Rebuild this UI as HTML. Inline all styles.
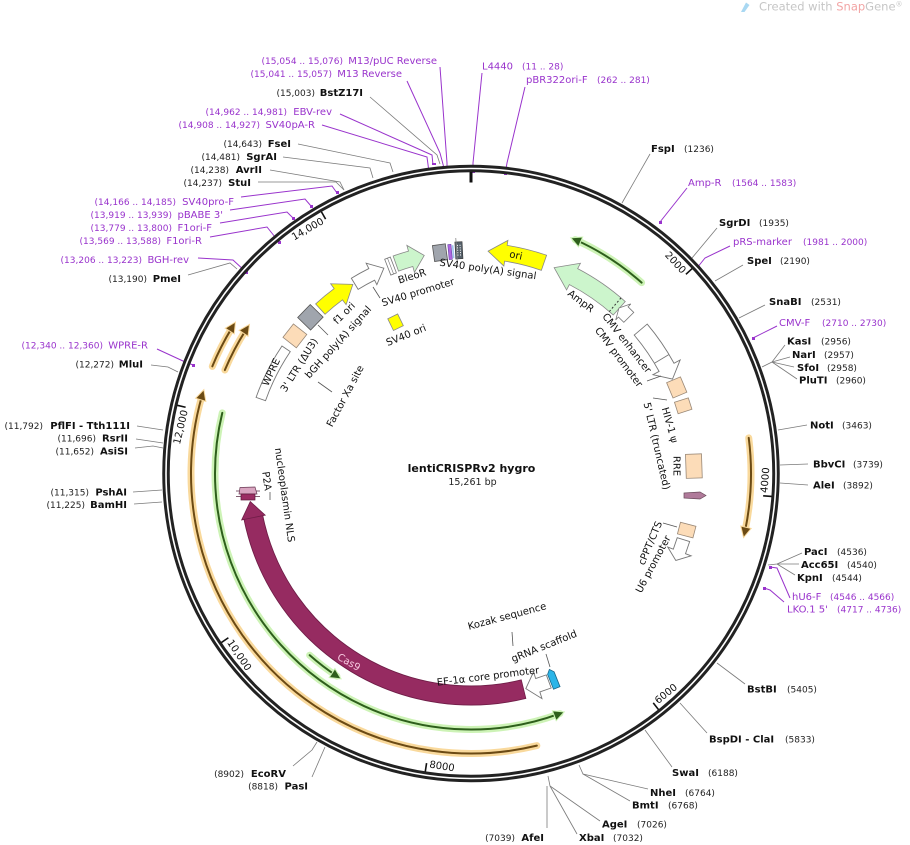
<!DOCTYPE html>
<html>
<head>
<meta charset="utf-8">
<style>
html,body{margin:0;padding:0;background:#fff;}
body{width:910px;height:845px;overflow:hidden;}
svg{display:block;}
.en{font-weight:bold;font-size:10px;fill:#111;}
.num{font-size:9px;fill:#222;}
.pn{font-size:10px;fill:#9933cc;}
.pr{font-size:9px;fill:#9933cc;}
.lb{font-size:10px;fill:#111;}
.tk{font-size:10px;fill:#111;}
</style>
</head>
<body>
<svg width="910" height="845" viewBox="0 0 910 845" font-family="'DejaVu Sans','Liberation Sans',sans-serif">
<rect width="910" height="845" fill="#fff"/>

<!-- watermark -->
<path d="M741,12 L746,2.5 L749.5,5 L744.5,12 Z" fill="#a9d8f2"/>
<text x="759" y="10.5" font-size="11.5" fill="#c6c6c6">Created with <tspan fill="#f2a5a5">Snap</tspan>Gene<tspan font-size="7" dy="-4">®</tspan></text>

<!-- center title -->
<text x="471.5" y="472" font-weight="bold" font-size="11" text-anchor="middle" fill="#111">lentiCRISPRv2 hygro</text>
<text x="472.5" y="485" font-size="9.5" text-anchor="middle" fill="#222">15,261 bp</text>

<!-- enzyme leader lines -->
<g fill="none" stroke="#7a7a7a" stroke-width="0.8">
<polyline points="370,97 437,155 440,164"/>
<polyline points="298,144 390,163 393,172"/>
<polyline points="283,157 370,168 373,178"/>
<polyline points="270,170 340,182 344,190"/>
<polyline points="258,182 336,182 344,190"/>
<polyline points="188,275 230,263 237,269"/>
<polyline points="151,365 168,367 178,372"/>
<polyline points="137,426 163,430"/>
<polyline points="136,439 163,443"/>
<polyline points="135,448 153,446 163,448"/>
<polyline points="133,492 162,490"/>
<polyline points="134,504 162,502"/>
<polyline points="293,766 312,750 317,742"/>
<polyline points="312,777 325,747"/>
<polyline points="650,154 622,203"/>
<polyline points="717,228 692,258"/>
<polyline points="743,265 715,281"/>
<polyline points="765,305 739,318"/>
<polyline points="762,367 772,362 785,345"/>
<polyline points="772,362 790,357"/>
<polyline points="772,362 794,367"/>
<polyline points="772,362 797,379"/>
<polyline points="807,425 778,430"/>
<polyline points="808,464 780,465"/>
<polyline points="808,485 780,483"/>
<polyline points="768,565 777,564 802,553"/>
<polyline points="777,564 799,564"/>
<polyline points="777,564 795,575"/>
<polyline points="745,684 717,663"/>
<polyline points="707,733 680,703"/>
<polyline points="672,767 645,730"/>
<polyline points="648,789 583,774 579,765"/>
<polyline points="630,801 583,774"/>
<polyline points="600,821 550,786 548,776"/>
<polyline points="577,834 550,786"/>
<polyline points="547,828 547,786"/>
</g>

<!-- primer leader lines -->
<g fill="none" stroke="#9933cc" stroke-width="1">
<polyline points="440,67 447,163 447,172"/>
<polyline points="407,81 440,153 444,168"/>
<polyline points="340,114 432,155 433,165"/>
<polyline points="322,125 427,157 429,172"/>
<polyline points="241,197 332,186 337,193"/>
<polyline points="230,210 305,199 311,206"/>
<polyline points="220,223 287,212 293,218"/>
<polyline points="210,237 267,227 279,242"/>
<polyline points="198,258 233,260 246,272"/>
<polyline points="157,349 183,361 193,365"/>
<polyline points="482,73 473,163 473,172"/>
<polyline points="525,87 507,163 505,174"/>
<polyline points="687,188 660,222"/>
<polyline points="730,246 705,258 697,268"/>
<polyline points="777,326 753,338"/>
<polyline points="790,598 777,568 770,567"/>
<polyline points="784,602 770,590 764,588"/>
</g>
<g fill="#9933cc">
<rect x="445" y="171" width="4" height="2"/>
<rect x="442" y="166" width="4" height="2"/>
<rect x="432" y="163" width="4" height="2"/>
<rect x="427" y="171" width="4" height="2"/>
<rect x="336" y="191" width="3" height="3"/>
<rect x="310" y="205" width="3" height="3"/>
<rect x="292" y="217" width="3" height="3"/>
<rect x="278" y="241" width="3" height="3"/>
<rect x="245" y="271" width="3" height="3"/>
<rect x="192" y="364" width="3" height="3"/>
<rect x="472" y="171" width="3" height="2"/>
<rect x="504" y="173" width="3" height="2"/>
<rect x="659" y="221" width="3" height="3"/>
<rect x="696" y="267" width="3" height="3"/>
<rect x="752" y="337" width="3" height="3"/>
<rect x="769" y="566" width="3" height="3"/>
<rect x="763" y="587" width="3" height="3"/>
</g>

<!-- left labels -->
<text class="pr" x="343" y="64" text-anchor="end">(15,054 .. 15,076)</text><text class="pn" x="437" y="64" text-anchor="end">M13/pUC Reverse</text>
<text class="pr" x="332" y="77" text-anchor="end">(15,041 .. 15,057)</text><text class="pn" x="402" y="77" text-anchor="end">M13 Reverse</text>
<text class="num" x="315" y="96" text-anchor="end">(15,003)</text><text class="en" x="363" y="96" text-anchor="end">BstZ17I</text>
<text class="pr" x="287" y="115" text-anchor="end">(14,962 .. 14,981)</text><text class="pn" x="332" y="115" text-anchor="end">EBV-rev</text>
<text class="pr" x="260" y="128" text-anchor="end">(14,908 .. 14,927)</text><text class="pn" x="315" y="128" text-anchor="end">SV40pA-R</text>
<text class="num" x="262" y="147" text-anchor="end">(14,643)</text><text class="en" x="291" y="147" text-anchor="end">FseI</text>
<text class="num" x="240" y="160" text-anchor="end">(14,481)</text><text class="en" x="277" y="160" text-anchor="end">SgrAI</text>
<text class="num" x="229" y="173" text-anchor="end">(14,238)</text><text class="en" x="262" y="173" text-anchor="end">AvrII</text>
<text class="num" x="222" y="186" text-anchor="end">(14,237)</text><text class="en" x="251" y="186" text-anchor="end">StuI</text>
<text class="pr" x="176" y="205" text-anchor="end">(14,166 .. 14,185)</text><text class="pn" x="234" y="205" text-anchor="end">SV40pro-F</text>
<text class="pr" x="172" y="218" text-anchor="end">(13,919 .. 13,939)</text><text class="pn" x="223" y="218" text-anchor="end">pBABE 3'</text>
<text class="pr" x="172" y="231" text-anchor="end">(13,779 .. 13,800)</text><text class="pn" x="212" y="231" text-anchor="end">F1ori-F</text>
<text class="pr" x="161" y="244" text-anchor="end">(13,569 .. 13,588)</text><text class="pn" x="202" y="244" text-anchor="end">F1ori-R</text>
<text class="pr" x="142" y="263" text-anchor="end">(13,206 .. 13,223)</text><text class="pn" x="189" y="263" text-anchor="end">BGH-rev</text>
<text class="num" x="147" y="282" text-anchor="end">(13,190)</text><text class="en" x="181" y="282" text-anchor="end">PmeI</text>
<text class="pr" x="103" y="348.5" text-anchor="end">(12,340 .. 12,360)</text><text class="pn" x="148" y="348.5" text-anchor="end">WPRE-R</text>
<text class="num" x="114" y="367.5" text-anchor="end">(12,272)</text><text class="en" x="143" y="367.5" text-anchor="end">MluI</text>
<text class="num" x="43" y="429" text-anchor="end">(11,792)</text><text class="en" x="130" y="429" text-anchor="end">PflFI - Tth111I</text>
<text class="num" x="96" y="441.5" text-anchor="end">(11,696)</text><text class="en" x="128" y="441.5" text-anchor="end">RsrII</text>
<text class="num" x="94" y="454.5" text-anchor="end">(11,652)</text><text class="en" x="128" y="454.5" text-anchor="end">AsiSI</text>
<text class="num" x="89" y="495.5" text-anchor="end">(11,315)</text><text class="en" x="127" y="495.5" text-anchor="end">PshAI</text>
<text class="num" x="85" y="508" text-anchor="end">(11,225)</text><text class="en" x="127" y="508" text-anchor="end">BamHI</text>
<text class="num" x="244" y="777" text-anchor="end">(8902)</text><text class="en" x="286" y="777" text-anchor="end">EcoRV</text>
<text class="num" x="278" y="789.5" text-anchor="end">(8818)</text><text class="en" x="308" y="789.5" text-anchor="end">PasI</text>
<text class="num" x="515" y="841" text-anchor="end">(7039)</text><text class="en" x="544" y="841" text-anchor="end">AfeI</text>

<!-- right labels -->
<text class="pn" x="482" y="69.5">L4440</text><text class="pr" x="522" y="69.5">(11 .. 28)</text>
<text class="pn" x="526" y="83">pBR322ori-F</text><text class="pr" x="597" y="83">(262 .. 281)</text>
<text class="en" x="651" y="152">FspI</text><text class="num" x="684" y="152">(1236)</text>
<text class="pn" x="688" y="186">Amp-R</text><text class="pr" x="732" y="186">(1564 .. 1583)</text>
<text class="en" x="719" y="226">SgrDI</text><text class="num" x="759" y="226">(1935)</text>
<text class="pn" x="733" y="245">pRS-marker</text><text class="pr" x="803" y="245">(1981 .. 2000)</text>
<text class="en" x="747" y="264">SpeI</text><text class="num" x="780" y="264">(2190)</text>
<text class="en" x="769" y="305">SnaBI</text><text class="num" x="811" y="305">(2531)</text>
<text class="pn" x="779" y="326">CMV-F</text><text class="pr" x="822" y="326">(2710 .. 2730)</text>
<text class="en" x="787" y="344.5">KasI</text><text class="num" x="821" y="344.5">(2956)</text>
<text class="en" x="792" y="358">NarI</text><text class="num" x="824" y="358">(2957)</text>
<text class="en" x="797" y="371">SfoI</text><text class="num" x="827" y="371">(2958)</text>
<text class="en" x="799" y="383.5">PluTI</text><text class="num" x="836" y="383.5">(2960)</text>
<text class="en" x="810" y="428.5">NotI</text><text class="num" x="842" y="428.5">(3463)</text>
<text class="en" x="813" y="467.5">BbvCI</text><text class="num" x="853" y="467.5">(3739)</text>
<text class="en" x="813" y="488.5">AleI</text><text class="num" x="843" y="488.5">(3892)</text>
<text class="en" x="804" y="555">PacI</text><text class="num" x="837" y="555">(4536)</text>
<text class="en" x="801" y="568">Acc65I</text><text class="num" x="847" y="568">(4540)</text>
<text class="en" x="797" y="581">KpnI</text><text class="num" x="832" y="581">(4544)</text>
<text class="pn" x="792" y="600">hU6-F</text><text class="pr" x="830" y="600">(4546 .. 4566)</text>
<text class="pn" x="787" y="612.5">LKO.1 5'</text><text class="pr" x="837" y="612.5">(4717 .. 4736)</text>
<text class="en" x="747" y="692.5">BstBI</text><text class="num" x="787" y="692.5">(5405)</text>
<text class="en" x="709" y="742.5">BspDI - ClaI</text><text class="num" x="785" y="742.5">(5833)</text>
<text class="en" x="672" y="776">SwaI</text><text class="num" x="708" y="776">(6188)</text>
<text class="en" x="650" y="796">NheI</text><text class="num" x="685" y="796">(6764)</text>
<text class="en" x="632" y="808.5">BmtI</text><text class="num" x="668" y="808.5">(6768)</text>
<text class="en" x="602" y="827.5">AgeI</text><text class="num" x="637" y="827.5">(7026)</text>
<text class="en" x="579" y="841">XbaI</text><text class="num" x="613" y="841">(7032)</text>

<!-- map body -->
<g transform="translate(471,473.5)">
  <circle r="305" fill="none" stroke="#222" stroke-width="7.5"/>
  <circle r="305" fill="none" stroke="#fff" stroke-width="1.6"/>

  <line x1="0" y1="-301.5" x2="0" y2="-291" stroke="#111" stroke-width="3"/>
  <g stroke="#111" stroke-width="1.6">
    <line x1="0" y1="-301.5" x2="0" y2="-293" transform="rotate(47.18)"/>
    <line x1="0" y1="-301.5" x2="0" y2="-293" transform="rotate(94.36)"/>
    <line x1="0" y1="-301.5" x2="0" y2="-293" transform="rotate(141.54)"/>
    <line x1="0" y1="-301.5" x2="0" y2="-293" transform="rotate(188.72)"/>
    <line x1="0" y1="-301.5" x2="0" y2="-293" transform="rotate(235.9)"/>
    <line x1="0" y1="-301.5" x2="0" y2="-293" transform="rotate(283.07)"/>
    <line x1="0" y1="-301.5" x2="0" y2="-293" transform="rotate(330.25)"/>
  </g>
  <g class="tk">
    <g transform="rotate(47.18)"><text class="tk" x="-3" y="-290" text-anchor="end">2000</text></g>
    <g transform="rotate(283.07)"><text class="tk" x="-3" y="-290" text-anchor="end">12,000</text></g>
    <g transform="rotate(330.25)"><text class="tk" x="-3" y="-290" text-anchor="end">14,000</text></g>
    <g transform="rotate(94.36)"><text class="tk" transform="rotate(180)" x="3" y="297">4000</text></g>
    <g transform="rotate(141.54)"><text class="tk" transform="rotate(180)" x="3" y="297">6000</text></g>
    <g transform="rotate(188.72)"><text class="tk" transform="rotate(180)" x="3" y="297">8000</text></g>
    <g transform="rotate(235.9)"><text class="tk" transform="rotate(180)" x="3" y="297">10,000</text></g>
  </g>

  <g fill="none" stroke-linecap="round">
    <circle r="280" stroke="#f9d99c" stroke-width="7" stroke-dasharray="91.9 2000" transform="rotate(-7.3)"/>
    <circle r="280" stroke="#f9d99c" stroke-width="7" stroke-dasharray="583.5 2000" transform="rotate(76.4)"/>
    <circle r="280" stroke="#f9d99c" stroke-width="7" stroke-dasharray="43 2000" transform="rotate(202.5)"/>
    <circle r="267" stroke="#f9d99c" stroke-width="7" stroke-dasharray="45.2 2000" transform="rotate(202.8)"/>
    <circle r="280" stroke="#6b4a14" stroke-width="2" stroke-dasharray="91.9 2000" transform="rotate(-7.3)"/>
    <circle r="280" stroke="#6b4a14" stroke-width="2" stroke-dasharray="583.5 2000" transform="rotate(76.4)"/>
    <circle r="280" stroke="#6b4a14" stroke-width="2" stroke-dasharray="43 2000" transform="rotate(202.5)"/>
    <circle r="267" stroke="#6b4a14" stroke-width="2" stroke-dasharray="45.2 2000" transform="rotate(202.8)"/>
  </g>
  <g fill="#6b4a14" stroke="#f9d99c" stroke-width="2" paint-order="stroke">
    <polygon points="0,-280 -9,-284.5 -9,-275.5" transform="rotate(103)"/>
    <polygon points="0,-280 -9,-284.5 -9,-275.5" transform="rotate(287.2)"/>
    <polygon points="0,-280 -9,-284.5 -9,-275.5" transform="rotate(302.5)"/>
    <polygon points="0,-267 -9,-271.5 -9,-262.5" transform="rotate(303.7)"/>
  </g>

  <g fill="none" stroke-linecap="round">
    <circle r="256" stroke="#cdf3b6" stroke-width="7" stroke-dasharray="554 2000" transform="rotate(69.7)"/>
    <circle r="243" stroke="#cdf3b6" stroke-width="7" stroke-dasharray="34.4 2000" transform="rotate(123.5)"/>
    <circle r="256" stroke="#cdf3b6" stroke-width="7" stroke-dasharray="79.5 2000" transform="rotate(-66)"/>
    <circle r="256" stroke="#2e5f1c" stroke-width="2" stroke-dasharray="554 2000" transform="rotate(69.7)"/>
    <circle r="243" stroke="#2e5f1c" stroke-width="2" stroke-dasharray="34.4 2000" transform="rotate(123.5)"/>
    <circle r="256" stroke="#2e5f1c" stroke-width="2" stroke-dasharray="79.5 2000" transform="rotate(-66)"/>
  </g>
  <g fill="#2e5f1c" stroke="#cdf3b6" stroke-width="2" paint-order="stroke">
    <polygon points="0,-256 9,-260.5 9,-251.5" transform="rotate(158.9)"/>
    <polygon points="0,-243 9,-247.5 9,-238.5" transform="rotate(212.6)"/>
    <polygon points="0,-256 9,-260.5 9,-251.5" transform="rotate(23.2)"/>
  </g>

  <path transform="rotate(289.5)" d="M0,-228 A228,228 0 0 1 57.09,-220.73 L54.59,-211.05 A218,218 0 0 0 0,-218 Z" fill="#fff" stroke="#777" stroke-width="0.9"/>
  <rect transform="rotate(308)" x="-8.5" y="-232" width="17" height="17" fill="#fcdcb8" stroke="#998877" stroke-width="0.8"/>
  <rect transform="rotate(314.2)" x="-9" y="-233" width="18" height="18" fill="#a0a5ad" stroke="#555" stroke-width="0.8"/>
  <path transform="rotate(317.5)" d="M0,-230 A230,230 0 0 1 24.04,-228.74 L24.67,-234.71 L40.64,-219.26 L21.95,-208.85 L22.58,-214.82 A216,216 0 0 0 0,-216 Z" fill="#ffff00" stroke="#888" stroke-width="0.8"/>
  <path transform="rotate(328.5)" d="M0,-229 A229,229 0 0 1 19.96,-228.13 L20.48,-234.1 L32.96,-220.55 L18.39,-210.2 L18.83,-215.18 A216,216 0 0 0 0,-216 Z" fill="#fff" stroke="#777" stroke-width="0.9"/>
  <g transform="rotate(338.8)">
    <rect x="-3" y="-231" width="6" height="17" fill="#fff" stroke="#777" stroke-width="0.8"/>
    <line x1="0" y1="-231" x2="0" y2="-214" stroke="#777" stroke-width="0.6"/>
  </g>
  <path transform="rotate(340.3)" d="M0,-231 A231,231 0 0 1 16.11,-230.44 L16.53,-236.42 L29.49,-221.04 L14.58,-208.49 L15,-214.48 A215,215 0 0 0 0,-215 Z" fill="#ccf5cc" stroke="#888" stroke-width="0.8"/>
  <rect transform="rotate(352)" x="-6.5" y="-231" width="13" height="16" fill="#a0a5ad" stroke="#555" stroke-width="0.8"/>
  <rect transform="rotate(354.6)" x="-1.6" y="-230" width="3.2" height="15" fill="#b066e0" stroke="#6644aa" stroke-width="0.6"/>
  <rect transform="rotate(355.4)" x="-0.8" y="-229" width="1.6" height="13" fill="#9fc4ee"/>
  <g transform="rotate(356.9)">
    <rect x="-3.6" y="-232" width="7.2" height="17" fill="#55606a" stroke="#333" stroke-width="0.6"/>
    <line x1="-1.2" y1="-229" x2="-1.2" y2="-218" stroke="#fff" stroke-width="0.9" stroke-dasharray="1.2 1.2"/>
    <line x1="1.4" y1="-229" x2="1.4" y2="-218" stroke="#fff" stroke-width="0.9" stroke-dasharray="1.2 1.2"/>
  </g>
  <line transform="rotate(356.3)" x1="0" y1="-236" x2="0" y2="-211" stroke="#888" stroke-width="0.8"/>
  <path transform="rotate(4.4)" d="M0,-223 L18.93,-235.24 L18.53,-230.26 A231,231 0 0 1 58.62,-223.44 L54.56,-207.96 A215,215 0 0 0 17.24,-214.31 L16.84,-209.32 Z" fill="#ffff00" stroke="#888" stroke-width="0.8"/>
  <g transform="rotate(22)">
    <path d="M0,-222 L22.72,-235.91 L22.14,-229.94 A231,231 0 0 1 78.63,-217.21 L72.5,-200.28 A213,213 0 0 0 20.42,-212.02 L19.84,-206.05 Z" fill="#ccf5cc" stroke="#888" stroke-width="0.8"/>
    <line x1="67.58" y1="-201.99" x2="73.3" y2="-219.06" stroke="#333" stroke-width="1" stroke-dasharray="2 2"/>
  </g>
  <path transform="rotate(41.8)" d="M0,-222 L6.1,-232.92 L6,-228.92 L13.98,-228.57 L13.13,-214.6 L5.63,-214.93 L5.52,-210.93 Z" fill="#fff" stroke="#777" stroke-width="0.8"/>
  <g transform="rotate(49.7)">
    <path d="M0,-231 A231,231 0 0 1 47.24,-226.12 L48.67,-232.97 L58.34,-214.72 L42.33,-202.63 L43.76,-209.48 A214,214 0 0 0 0,-214 Z" fill="#fff" stroke="#777" stroke-width="0.9"/>
    <line x1="34.58" y1="-211.19" x2="37.33" y2="-227.96" stroke="#777" stroke-width="0.9"/>
  </g>
  <rect transform="rotate(67.3)" x="-8.3" y="-230.5" width="16.6" height="15" fill="#fcdcb8" stroke="#998877" stroke-width="0.8"/>
  <rect transform="rotate(72.3)" x="-6" y="-230" width="12" height="14.5" fill="#fcdcb8" stroke="#998877" stroke-width="0.8"/>
  <rect transform="rotate(88.1)" x="-12" y="-231" width="24" height="16" fill="#fcdcb8" stroke="#998877" stroke-width="0.8"/>
  <rect transform="rotate(104.7)" x="-6" y="-231" width="12" height="16" fill="#fcdcb8" stroke="#998877" stroke-width="0.8"/>
  <path transform="rotate(107.3)" d="M0,-229 L12.78,-228.64 L13.12,-234.63 L22.1,-221.4 L11.72,-209.67 L12.06,-215.66 L0,-216 Z" fill="#fff" stroke="#777" stroke-width="0.9"/>
  <path transform="rotate(158.2)" d="M-3.5,-231 L3.5,-231 L3.5,-215 L0,-211 L-3.5,-215 Z" fill="#2bb5e8" stroke="#17678a" stroke-width="0.8"/>
  <path transform="rotate(159.5)" d="M0,-229 L11.99,-228.69 L12.35,-235.68 L23.98,-220.7 L10.89,-207.72 L11.25,-214.71 L0,-215 Z" fill="#fff" stroke="#777" stroke-width="0.9"/>
  <circle r="222" fill="none" stroke="#6f1d47" stroke-width="20" stroke-dasharray="358 1100" transform="rotate(76.2)"/>
  <circle r="222" fill="none" stroke="#962b61" stroke-width="18.2" stroke-dasharray="357.2 1100" transform="rotate(76.4)"/>
  <polygon transform="rotate(258.55)" points="0,-234 16.3,-221.9 0,-210" fill="#962b61" stroke="#6f1d47" stroke-width="0.8"/>
</g>

<polygon points="684,493 700,492 706,495.5 700,499 684,498" fill="#b07a9a" stroke="#6a4a5a" stroke-width="0.7"/>
<rect x="390" y="315.5" width="11" height="13" transform="rotate(-26 396 322)" fill="#ffff00" stroke="#888" stroke-width="0.8"/>
<g stroke="#5a2a45" stroke-width="0.7">
  <line x1="236" y1="491" x2="260" y2="491"/>
  <line x1="236" y1="496.5" x2="260" y2="496.5"/>
</g>
<polygon points="240,487.5 255,487 257,494 239,494" fill="#d9a5c0" stroke="#6a3a55" stroke-width="0.7"/>
<rect x="241" y="494" width="14" height="6" fill="#9b2d63" stroke="#5a1a3a" stroke-width="0.7"/>

<g stroke="#555" stroke-width="0.8" fill="none">
  <line x1="373" y1="287" x2="380" y2="298"/>
  <line x1="318" y1="325" x2="328" y2="335"/>
  <line x1="318" y1="382" x2="332" y2="392"/>
  <line x1="270" y1="492" x2="270" y2="500"/>
  <line x1="512" y1="632" x2="513" y2="646"/>
  <line x1="546" y1="654" x2="550" y2="667"/>
  <line x1="647" y1="381" x2="661" y2="376"/>
  <line x1="653" y1="398" x2="667" y2="400"/>
  <line x1="663" y1="523" x2="677" y2="527"/>
</g>

<g class="lb">
<text class="lb" transform="translate(488,269) rotate(8)" text-anchor="middle" dy="0.35em">SV40 poly(A) signal</text>
<text class="lb" transform="translate(516,255) rotate(12)" text-anchor="middle" dy="0.35em">ori</text>
<text class="lb" transform="translate(581,301) rotate(37)" text-anchor="middle" dy="0.35em">AmpR</text>
<text class="lb" transform="translate(627,343) rotate(52)" text-anchor="middle" dy="0.35em">CMV enhancer</text>
<text class="lb" transform="translate(619,357) rotate(53)" text-anchor="middle" dy="0.35em">CMV promoter</text>
<text class="lb" transform="translate(670,425) rotate(74)" text-anchor="middle" dy="0.35em">HIV-1 ψ</text>
<text class="lb" transform="translate(657,446) rotate(77)" text-anchor="middle" dy="0.35em">5' LTR (truncated)</text>
<text class="lb" transform="translate(677,466) rotate(90)" text-anchor="middle" dy="0.35em">RRE</text>
<text class="lb" transform="translate(650,543) rotate(-67)" text-anchor="middle" dy="0.35em">cPPT/CTS</text>
<text class="lb" transform="translate(653,564) rotate(-62)" text-anchor="middle" dy="0.35em">U6 promoter</text>
<text class="lb" transform="translate(544,646) rotate(-22)" text-anchor="middle" dy="0.35em">gRNA scaffold</text>
<text class="lb" transform="translate(507,616) rotate(-15)" text-anchor="middle" dy="0.35em">Kozak sequence</text>
<text class="lb" transform="translate(488,676) rotate(-7)" text-anchor="middle" dy="0.35em">EF-1α core promoter</text>
<text transform="translate(349,662) rotate(30)" text-anchor="middle" dy="0.35em" font-size="10" fill="#f7c9e0">Cas9</text>
<text class="lb" transform="translate(285,495) rotate(82)" text-anchor="middle" dy="0.35em">nucleoplasmin NLS</text>
<text class="lb" transform="translate(267,481) rotate(82)" text-anchor="middle" dy="0.35em">P2A</text>
<text class="lb" transform="translate(345,396) rotate(-62)" text-anchor="middle" dy="0.35em">Factor Xa site</text>
<text class="lb" transform="translate(271,372) rotate(-65)" text-anchor="middle" dy="0.35em">WPRE</text>
<text class="lb" transform="translate(299,365) rotate(-58)" text-anchor="middle" dy="0.35em">3' LTR (ΔU3)</text>
<text class="lb" transform="translate(338,342) rotate(-48)" text-anchor="middle" dy="0.35em">bGH poly(A) signal</text>
<text class="lb" transform="translate(344,313) rotate(-45)" text-anchor="middle" dy="0.35em">f1 ori</text>
<text class="lb" transform="translate(418,292) rotate(-17)" text-anchor="middle" dy="0.35em">SV40 promoter</text>
<text class="lb" transform="translate(412,276) rotate(-17)" text-anchor="middle" dy="0.35em">BleoR</text>
<text class="lb" transform="translate(406,335) rotate(-22)" text-anchor="middle" dy="0.35em">SV40 ori</text>
</g>
</svg>
</body>
</html>
